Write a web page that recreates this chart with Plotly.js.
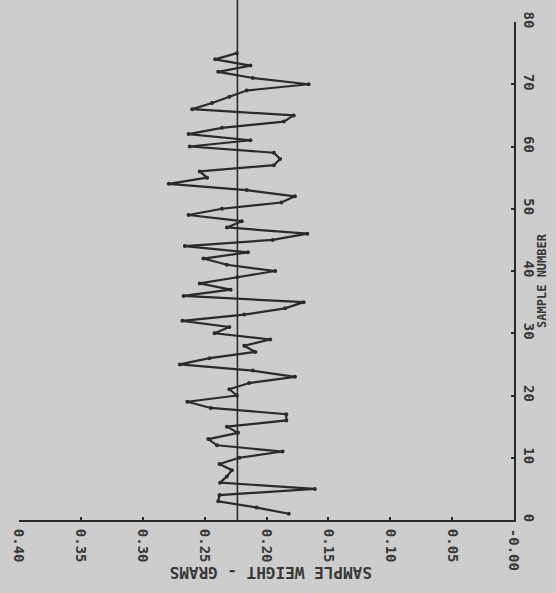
<!DOCTYPE html>
<html>
<head>
<meta charset="utf-8">
<script src="https://cdn.plot.ly/plotly-3.0.1.min.js"></script>
<style>
  html, body { margin: 0; padding: 0; background: #cdcdcd; }
  #chart { width: 556px; height: 593px; }
</style>
</head>
<body>
<div id="chart"></div>
<script>
// Sample numbers (vertical axis in the picture)
const sampleNumber = [
  1, 2, 3, 4, 5, 6, 7, 8, 9, 10,
  11, 12, 13, 14, 15, 16, 17, 18, 19, 20,
  21, 22, 23, 24, 25, 26, 27, 28, 29, 30,
  31, 32, 33, 34, 35, 36, 37, 38, 39, 40,
  41, 42, 43, 44, 45, 46, 47, 48, 49, 50,
  51, 52, 53, 54, 55, 56, 57, 58, 59, 60,
  61, 62, 63, 64, 65, 66, 67, 68, 69, 70,
  71, 72, 73, 74, 75
];
// Sample weight in grams (horizontal axis, reversed)
const sampleWeight = [
  0.182, 0.208, 0.239, 0.238, 0.161, 0.2375, 0.232, 0.228, 0.238, 0.222,
  0.187, 0.240, 0.247, 0.223, 0.232, 0.184, 0.184, 0.245, 0.264, 0.224,
  0.230, 0.214, 0.177, 0.211, 0.270, 0.246, 0.209, 0.218, 0.197, 0.242,
  0.230, 0.268, 0.218, 0.185, 0.170, 0.267, 0.229, 0.254, 0.2235, 0.193,
  0.232, 0.251, 0.215, 0.266, 0.195, 0.167, 0.232, 0.220, 0.263, 0.236,
  0.188, 0.177, 0.216, 0.279, 0.248, 0.254, 0.194, 0.189, 0.194, 0.262,
  0.213, 0.263, 0.236, 0.186, 0.178, 0.260, 0.244, 0.230, 0.216, 0.166,
  0.211, 0.239, 0.213, 0.2415, 0.224
];
const meanWeight = 0.2235;

const weightTickVals = [0.40, 0.35, 0.30, 0.25, 0.20, 0.15, 0.10, 0.05, 0.00];
const weightTickText = ['0.40', '0.35', '0.30', '0.25', '0.20', '0.15', '0.10', '0.05', '-0.00'];
const sampleTickVals = [0, 10, 20, 30, 40, 50, 60, 70, 80];
const sampleTickText = ['0', '10', '20', '30', '40', '50', '60', '70', '80'];

const ink = '#2a2a2a';
const bg = '#cdcdcd';
const tickFont = { family: 'DejaVu Sans Mono, monospace', size: 14, color: '#383838', weight: 'bold' };

const trace = {
  type: 'scatter',
  mode: 'lines+markers',
  x: sampleWeight,
  y: sampleNumber,
  line: { color: ink, width: 2.2 },
  marker: { color: ink, size: 4 },
  hoverinfo: 'x+y',
  showlegend: false
};

const layout = {
  width: 556,
  height: 593,
  margin: { l: 19, r: 42, t: 22, b: 73 },
  paper_bgcolor: bg,
  plot_bgcolor: bg,
  showlegend: false,
  xaxis: {
    range: [0.40, 0.00],
    tickvals: weightTickVals,
    ticktext: weightTickText,
    tickangle: 90,
    tickfont: tickFont,
    ticklabelstandoff: 4,
    ticks: 'inside',
    ticklen: 3,
    tickwidth: 2,
    tickcolor: ink,
    showline: true,
    linecolor: ink,
    linewidth: 2,
    showgrid: false,
    zeroline: false,
    fixedrange: true
  },
  yaxis: {
    side: 'right',
    range: [0, 80],
    tickvals: sampleTickVals,
    ticktext: sampleTickText,
    tickangle: 90,
    tickfont: tickFont,
    ticklabelstandoff: 2,
    ticks: 'inside',
    ticklen: 3,
    tickwidth: 2,
    tickcolor: ink,
    showline: true,
    linecolor: ink,
    linewidth: 2,
    showgrid: false,
    zeroline: false,
    fixedrange: true
  },
  shapes: [
    {
      type: 'line',
      xref: 'x', yref: 'paper',
      x0: meanWeight, x1: meanWeight,
      y0: 0, y1: 1.044,
      line: { color: ink, width: 1.6 },
      layer: 'below'
    }
  ],
  annotations: [
    {
      text: 'SAMPLE WEIGHT - GRAMS',
      xref: 'paper', yref: 'paper',
      x: 0.509, y: -0.1044,
      xanchor: 'center', yanchor: 'middle',
      textangle: 180,
      showarrow: false,
      font: { family: 'DejaVu Sans Mono, monospace', size: 16, color: '#383838', weight: 'bold' }
    },
    {
      text: 'SAMPLE NUMBER',
      xref: 'paper', yref: 'paper',
      x: 1.0565, y: 0.482,
      xanchor: 'center', yanchor: 'middle',
      textangle: -90,
      showarrow: false,
      font: { family: 'DejaVu Sans Mono, monospace', size: 12, color: '#383838', weight: 'bold' }
    }
  ]
};

Plotly.newPlot('chart', [trace], layout, { displayModeBar: false, staticPlot: true });
</script>
</body>
</html>
